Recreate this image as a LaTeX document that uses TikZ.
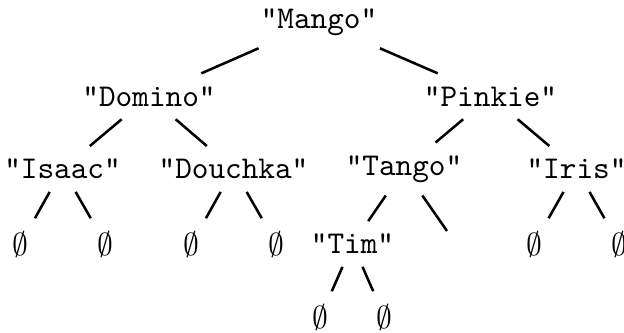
\documentclass[tikz,border=0pt]{standalone}
\begin{document}
\begin{tikzpicture}[x=0.3155pt,y=-0.3155pt,
  lbl/.style={font=\ttfamily\fontsize{10}{12}\selectfont, inner sep=3.9pt},
  leaf/.style={font=\fontsize{10}{12}\selectfont, inner sep=3.9pt},
  edge/.style={line width=0.8pt}]
\useasboundingbox (0,0) rectangle (624,333);
% level 0
\node[lbl] (mango) at (319,21.8) {"Mango"};
% level 1
\node[lbl] (domino) at (149,96.3) {"Domino"};
\node[lbl] (pinkie) at (490.5,96.3) {"Pinkie"};
% level 2
\node[lbl] (isaac) at (62.5,169) {"Isaac"};
\node[lbl] (douchka) at (233.5,169) {"Douchka"};
\node[lbl] (tango) at (404,169) {"Tango"};
\node[lbl] (iris) at (576.5,169) {"Iris"};
% level 3
\node[leaf] (i1) at (20.5,244) {$\emptyset$};
\node[leaf] (i2) at (105.5,244) {$\emptyset$};
\node[leaf] (d1) at (191.5,244) {$\emptyset$};
\node[leaf] (d2) at (276.5,244) {$\emptyset$};
\node[lbl] (tim) at (352.5,244) {"Tim"};
\node[leaf] (tempty) at (456,244) {};
\node[leaf] (r1) at (534,244) {$\emptyset$};
\node[leaf] (r2) at (619,244) {$\emptyset$};
% level 4
\node[leaf] (t1) at (320.5,317) {$\emptyset$};
\node[leaf] (t2) at (384.5,317) {$\emptyset$};
% edges
\draw[edge] (mango) -- (domino);
\draw[edge] (mango) -- (pinkie);
\draw[edge] (domino) -- (isaac);
\draw[edge] (domino) -- (douchka);
\draw[edge] (pinkie) -- (tango);
\draw[edge] (pinkie) -- (iris);
\draw[edge] (isaac) -- (i1);
\draw[edge] (isaac) -- (i2);
\draw[edge] (douchka) -- (d1);
\draw[edge] (douchka) -- (d2);
\draw[edge] (tango) -- (tim);
\draw[edge] (tango) -- (tempty);
\draw[edge] (iris) -- (r1);
\draw[edge] (iris) -- (r2);
\draw[edge] (tim) -- (t1);
\draw[edge] (tim) -- (t2);
\end{tikzpicture}
\end{document}
